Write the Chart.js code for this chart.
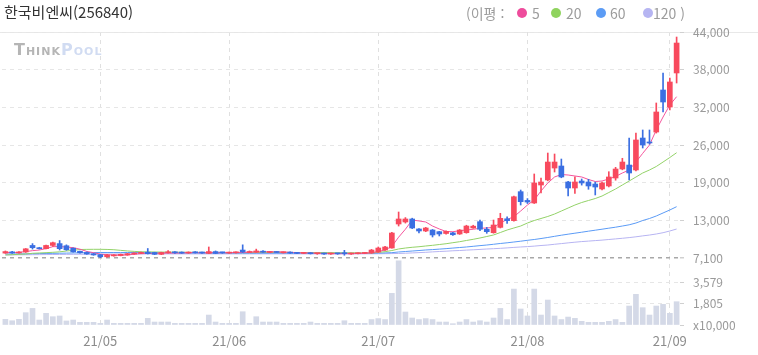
<!DOCTYPE html>
<html lang="ko">
<head>
<meta charset="utf-8">
<title>한국비엔씨(256840)</title>
<script src="https://cdn.jsdelivr.net/npm/chart.js@4"></script>
<style>
  body { margin: 0; background: #fff; font-family: 'Noto Sans CJK KR', 'Noto Sans', sans-serif; }
  #wrap { position: relative; width: 758px; height: 355px; overflow: hidden; }
  #chart { position: absolute; left: 0; top: 0; }
  .topline { position: absolute; left: 0; top: 32px; width: 758px; height: 1px; background: #e8e8e8; }
  .title { position: absolute; left: 4px; top: 2px; font-size: 15px; line-height: 20px; color: #333; }
  .lg { position: absolute; top: 4px; font-size: 14px; line-height: 18px; color: #9c9c9c; white-space: pre; }
  .dot { position: absolute; top: 8px; width: 10px; height: 10px; border-radius: 50%; }
  .logo { position: absolute; left: 14px; top: 40px; font-family: 'DejaVu Sans', sans-serif; font-weight: bold;
          font-size: 16px; font-variant: small-caps; letter-spacing: 1px; opacity: 0.75; }
  .logo .a { color: #9c9c9c; }
  .logo .b { color: #c2d0ee; }
</style>
</head>
<body>
<div id="wrap">
  <div class="topline"></div>
  <canvas id="chart" width="758" height="355"></canvas>
  <div class="title">한국비엔씨(256840)</div>
  <span class="lg" style="left:466px">(이평 :</span>
  <span class="dot" style="left:517px;background:#ee4c9c"></span>
  <span class="lg" style="left:532px">5</span>
  <span class="dot" style="left:551px;background:#8fd35e"></span>
  <span class="lg" style="left:566px">20</span>
  <span class="dot" style="left:596px;background:#5c9cf5"></span>
  <span class="lg" style="left:610px">60</span>
  <span class="dot" style="left:643px;background:#b6b5f2"></span>
  <span class="lg" style="left:653px">120 )</span>
  <div class="logo"><span class="a">Think</span><span class="b">Pool</span></div>
</div>
<script>
// Trading days (yy/mm/dd)
const tradeDates = [
  '21/04/13','21/04/14','21/04/15','21/04/16','21/04/19','21/04/20','21/04/21','21/04/22','21/04/23','21/04/26','21/04/27','21/04/28','21/04/29','21/04/30',
  '21/05/03','21/05/04','21/05/06','21/05/07','21/05/10','21/05/11','21/05/12','21/05/13','21/05/14','21/05/17','21/05/18','21/05/20','21/05/21','21/05/24','21/05/25','21/05/26','21/05/27','21/05/28','21/05/31',
  '21/06/01','21/06/02','21/06/03','21/06/04','21/06/07','21/06/08','21/06/09','21/06/10','21/06/11','21/06/14','21/06/15','21/06/16','21/06/17','21/06/18','21/06/21','21/06/22','21/06/23','21/06/24','21/06/25','21/06/28','21/06/29','21/06/30',
  '21/07/01','21/07/02','21/07/05','21/07/06','21/07/07','21/07/08','21/07/09','21/07/12','21/07/13','21/07/14','21/07/15','21/07/16','21/07/19','21/07/20','21/07/21','21/07/22','21/07/23','21/07/26','21/07/27','21/07/28','21/07/29','21/07/30',
  '21/08/02','21/08/03','21/08/04','21/08/05','21/08/06','21/08/09','21/08/10','21/08/11','21/08/12','21/08/13','21/08/17','21/08/18','21/08/19','21/08/20','21/08/23','21/08/24','21/08/25','21/08/26','21/08/27','21/08/30','21/08/31',
  '21/09/01','21/09/02'
];

// Daily prices (won)
const openPrices = [
  7900,8100,7920,8080,9150,8750,8620,9150,9450,9100,8700,8200,8000,7800,7650,7300,7450,7500,7600,7750,
  7850,8050,8000,7700,7950,8050,8050,7900,8100,8000,7850,8150,8000,7900,7950,8400,8000,8050,8200,8000,
  8100,7950,8050,7950,7850,7950,7800,7850,7750,7850,7950,7750,7800,7850,7920,8080,8400,8730,12650,12980,
  13470,11840,11510,11670,11400,11100,11200,11020,11230,12000,13030,11790,11230,12100,13500,13200,17930,16500,16080,19020,
  19840,21790,22120,19510,18530,19670,19510,19180,18370,18860,20160,21630,22280,21470,26690,26040,27670,34530,31750,37310
];
const highPrices = [
  8250,8200,8150,8650,9450,8850,9200,9700,9950,9250,8750,8250,8100,7850,7700,7700,7650,7750,7850,7950,
  8050,8650,8050,8050,8300,8150,8100,8100,8150,8050,8900,8250,8050,8050,8100,9250,8250,8550,8300,8150,
  8150,8100,8100,8000,8000,8000,7900,7900,7900,7900,8350,7900,7950,8000,8500,8900,9000,11300,14610,13700,
  13600,11900,12100,11750,11450,11550,11300,11750,12450,12450,13300,12100,13300,14400,13840,17200,18200,16800,20820,20160,
  24240,24080,23260,19600,20370,20000,19950,19500,19500,21190,21900,23380,26690,27510,28000,28000,32410,37310,36490,43180
];
const lowPrices = [
  7850,7850,7880,8000,8550,8550,8580,9000,8400,8350,8050,7900,7700,7550,7150,7250,7400,7450,7550,7700,
  7800,7750,7650,7650,7900,7850,7850,7850,7900,7850,7800,7800,7850,7850,7900,8000,7950,8000,8000,7950,
  7950,7900,7850,7800,7800,7750,7700,7700,7700,7700,7550,7700,7750,7800,7850,8000,8350,8700,12320,12800,
  11900,11180,11400,10530,10700,11000,10800,10950,11150,11950,11560,11130,11150,12000,12760,13100,15750,16000,16000,17710,
  19700,21140,20200,17220,17660,19000,18320,17390,18200,18700,19800,21500,19840,21300,25060,25700,27500,30940,31260,35670
];
const closePrices = [
  8150,7920,8050,8600,8780,8620,9150,9600,8620,8450,8100,7950,7750,7600,7300,7600,7600,7700,7800,7900,
  8000,7800,7700,8000,8050,7950,7900,8050,7950,7920,8150,7850,7950,8000,8050,8080,8150,8250,8050,8100,
  8000,8050,7900,7850,7950,7800,7850,7750,7850,7780,7800,7850,7900,7950,8400,8730,8900,11180,13470,13470,
  12000,11510,12000,10860,11020,11450,10900,11670,12320,12300,11790,11400,12490,13580,13200,17100,16300,16240,19350,19510,
  22770,22770,20330,18530,19510,19350,18860,18690,19350,20330,21630,22770,20980,26370,25550,25880,30940,32570,35840,42200
];

// Moving averages as drawn (이평 5 / 20 / 60 / 120)
const ma5 = [
  8000,8000,8020,8150,8300,8400,8640,8950,8960,8890,8790,8540,8170,7970,7730,7640,7570,7560,7600,7720,
  7800,7840,7840,7880,7910,7900,7920,7990,7980,7950,7990,7980,7960,7970,8000,7990,8050,8110,8120,8130,
  8110,8090,8020,7980,7950,7910,7870,7840,7840,7810,7810,7810,7840,7860,7970,8160,8410,9000,10500,11800,
  13300,13150,12980,12320,11840,11430,11390,11560,11670,11790,11950,12000,12110,12810,13390,13840,14770,15750,16570,18040,
  19350,20330,20730,20650,20490,20330,19920,19590,19670,20000,20410,20980,21470,22770,24190,25550,28000,30120,32080,33440
];
const ma20 = [
  7590,7640,7700,7750,7870,7920,7970,8030,8110,8240,8360,8490,8510,8520,8520,8500,8450,8350,8250,8180,
  8120,8100,8080,8070,8060,8050,8040,8030,8020,8010,8000,8000,7990,7990,7980,7980,7980,7990,8000,8000,
  8010,8010,8010,8000,8000,7990,7990,7980,7970,7960,7950,7950,7940,7930,7920,8030,8130,8320,8570,8730,
  8850,8940,9060,9170,9300,9430,9600,9760,9960,10150,10370,10610,10860,11260,11670,12000,12320,12810,13220,13550,
  13880,14280,14770,15260,15750,16160,16490,16810,17220,17790,18370,19020,19670,20320,20980,21470,22040,22770,23510,24290
];
const ma60 = [
  7750,7760,7770,7780,7800,7820,7840,7860,7880,7900,7920,7950,7970,7990,8000,8000,8000,8000,8000,7990,
  7980,7970,7960,7950,7940,7930,7920,7910,7900,7900,7890,7890,7880,7880,7880,7880,7880,7880,7880,7880,
  7880,7880,7880,7870,7870,7870,7870,7870,7860,7860,7860,7860,7860,7860,7870,7900,7930,7970,8080,8160,
  8240,8320,8410,8470,8550,8630,8720,8810,8900,9010,9120,9220,9340,9470,9580,9710,9840,9990,10120,10280,
  10450,10640,10820,10990,11150,11310,11480,11640,11800,11970,12130,12320,12520,12810,13220,13550,13960,14450,14940,15480
];
const ma120 = [
  7600,7610,7620,7630,7640,7650,7660,7670,7680,7690,7700,7710,7720,7730,7740,7750,7750,7760,7760,7770,
  7770,7770,7770,7770,7770,7770,7770,7770,7770,7770,7770,7770,7770,7770,7770,7770,7770,7770,7770,7770,
  7770,7770,7770,7770,7770,7770,7770,7770,7770,7770,7770,7770,7770,7780,7780,7790,7800,7820,7840,7880,
  7930,7980,8030,8100,8160,8210,8280,8320,8390,8440,8500,8570,8620,8680,8750,8830,8900,8960,9040,9140,
  9220,9340,9450,9570,9680,9780,9860,9940,10020,10120,10220,10320,10430,10560,10710,10850,11020,11230,11510,11830
];

// Volume (x10,000 shares)
const volumes = [
  480,360,480,1040,1400,420,985,700,760,340,420,225,225,225,140,420,140,140,140,140,
  140,560,250,250,250,140,140,140,140,140,840,250,140,140,140,1120,140,700,250,250,
  250,140,140,140,140,250,140,140,140,140,360,140,140,140,460,540,460,2670,5414,1095,
  590,460,540,460,250,250,110,250,460,250,360,250,590,1400,460,3030,1350,760,3030,840,
  2105,760,460,670,560,310,225,225,225,310,460,225,1600,2585,1460,840,1600,1740,985,1965
];

// Axis labels
const priceTickLabels = ['7,100', '13,000', '19,000', '26,000', '32,000', '38,000', '44,000'];
const priceMin = 7100;
const priceMax = 44000;
const volTickValues = [0, 1805, 3579];
const volTickLabels = ['x10,000', '1,805', '3,579'];
const volMax = 5650;

// Colors
const upColor = '#f84a5e';
const downColor = '#3b6fe2';
const candleColors = closePrices.map((c, i) => c >= openPrices[i] ? upColor : downColor);
const wickData = lowPrices.map((l, i) => [l, highPrices[i]]);
const bodyData = openPrices.map((o, i) => [o, closePrices[i]]);

function isMonthStart(i) {
  return i > 0 && tradeDates[i].slice(0, 5) !== tradeDates[i - 1].slice(0, 5);
}

function maLine(label, data, color) {
  return {
    type: 'line', label, data, yAxisID: 'y',
    borderColor: color, borderWidth: 1, pointRadius: 0, tension: 0, order: 2
  };
}

Chart.defaults.font.family = "'Noto Sans CJK KR', 'Noto Sans', sans-serif";

new Chart(document.getElementById('chart'), {
  type: 'bar',
  data: {
    labels: tradeDates,
    datasets: [
      maLine('5', ma5, '#f5559d'),
      maLine('20', ma20, '#93d268'),
      maLine('60', ma60, '#5b9bf6'),
      maLine('120', ma120, '#b7b4f2'),
      { label: 'wick', data: wickData, yAxisID: 'y', backgroundColor: candleColors,
        barThickness: 1, grouped: false, order: 1 },
      { label: 'body', data: bodyData, yAxisID: 'y', backgroundColor: candleColors,
        barThickness: 5, minBarLength: 1, grouped: false, order: 1 },
      { label: 'volume', data: volumes, yAxisID: 'yVol', backgroundColor: '#d4d9e7',
        barThickness: 5, grouped: false, order: 3 }
    ]
  },
  options: {
    responsive: false,
    animation: false,
    devicePixelRatio: 1,
    layout: { padding: { top: 32, left: 2, right: 0, bottom: 0 } },
    plugins: { legend: { display: false }, tooltip: { enabled: false } },
    scales: {
      x: {
        offset: true,
        grid: { offset: false, color: '#e0e0e0', drawTicks: false },
        border: { display: false, dash: [4, 4] },
        afterBuildTicks: (axis) => { axis.ticks = axis.ticks.filter(t => isMonthStart(t.value)); },
        ticks: {
          autoSkip: false, maxRotation: 0, color: '#8c8c8c', padding: 8,
          font: { size: 13 },
          callback: (value) => tradeDates[value].slice(0, 5)
        },
        afterFit: (axis) => { axis.height = 30; }
      },
      y: {
        position: 'right', stack: 'panes', stackWeight: 226,
        min: priceMin, max: priceMax,
        afterBuildTicks: (axis) => {
          const step = (priceMax - priceMin) / (priceTickLabels.length - 1);
          axis.ticks = priceTickLabels.map((l, k) => ({ value: priceMin + k * step }));
        },
        ticks: { color: '#9a9a9a', font: { size: 12 }, padding: 9,
                 callback: (value, k) => priceTickLabels[k] },
        grid: {
          color: (c) => c.tick && c.tick.value === priceMin ? '#a8a8a8' : '#e6e6e6',
          lineWidth: (c) => c.tick && c.tick.value === priceMin ? 1.5 : 1,
          tickLength: 4, tickColor: '#d0d0d0'
        },
        border: { display: false, dash: [4, 4] },
        afterFit: (axis) => { axis.width = 78; }
      },
      yVol: {
        position: 'right', stack: 'panes', stackWeight: 67,
        min: 0, max: volMax,
        afterBuildTicks: (axis) => { axis.ticks = volTickValues.map(v => ({ value: v })); },
        ticks: { color: '#9a9a9a', font: { size: 12 }, padding: 9,
                 callback: (value, k) => volTickLabels[k] },
        grid: {
          color: (c) => c.tick && c.tick.value === 0 ? 'rgba(0,0,0,0)' : '#e6e6e6',
          tickLength: 4, tickColor: '#d0d0d0'
        },
        border: { display: false, dash: [4, 4] },
        afterFit: (axis) => { axis.width = 78; }
      }
    }
  }
});
</script>
</body>
</html>
